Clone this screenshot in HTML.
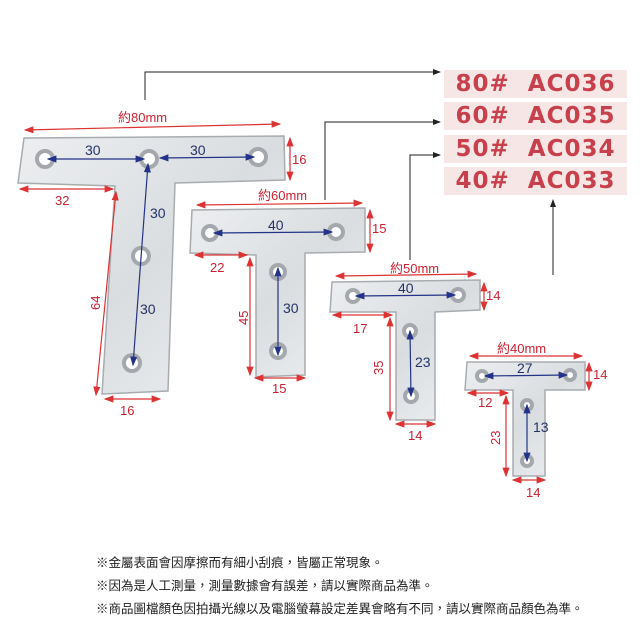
<!DOCTYPE html>
<html><head><meta charset="utf-8"><style>
body{margin:0;background:#fff;width:640px;height:640px;overflow:hidden;font-family:"Liberation Sans","Noto Sans CJK TC",sans-serif}
.lab{position:absolute;left:444px;width:183px;height:28px;background:#f7e6e6;color:#c8404c;font-weight:bold;font-size:23px;line-height:28px;letter-spacing:1px;text-align:center;white-space:nowrap;font-family:"DejaVu Sans","Liberation Sans",sans-serif}
.note{position:absolute;left:96px;font-size:12.5px;color:#222;white-space:nowrap}
</style></head><body>
<svg width="640" height="640" style="position:absolute;left:0;top:0">
<defs>
<linearGradient id="m" x1="0" y1="0" x2="1" y2="1"><stop offset="0" stop-color="#eceef0"/><stop offset=".5" stop-color="#dadde0"/><stop offset="1" stop-color="#eef0f2"/></linearGradient>
<marker id="a" markerWidth="8" markerHeight="8" refX="7" refY="4" orient="auto"><path d="M0,1 L8,4 L0,7z" fill="#222"/></marker>
<marker id="r" markerWidth="8" markerHeight="8" refX="7" refY="4" orient="auto-start-reverse"><path d="M0,1 L8,4 L0,7z" fill="#d33"/></marker>
<marker id="b" markerWidth="8" markerHeight="8" refX="7" refY="4" orient="auto-start-reverse"><path d="M0,1 L8,4 L0,7z" fill="#223388"/></marker>
</defs>
<g fill="url(#m)" stroke="#a8acb0" stroke-width="1.5">
<path d="M24,138 L284,136 L285,180 L175,183 L168,391 L102,394 L115,186 L18,183 Z"/>
<path d="M192,210 L365,208 L365,252 L305,253 L305,375 L256,377 L256,255 L190,253 Z"/>
<path d="M332,282 L480,280 L480,310 L435,312 L435,420 L396,420 L396,312 L330,312 Z"/>
<path d="M467,362 L585,362 L585,390 L545,390 L545,476 L513,476 L513,390 L465,390 Z"/>
</g>
<g fill="#fff" stroke="#a4a8ac" stroke-width="4">
<circle cx="45" cy="159" r="8"/><circle cx="149" cy="159" r="8"/><circle cx="258" cy="157" r="8"/><circle cx="141" cy="256" r="8"/><circle cx="132" cy="363" r="8"/>
<circle cx="210" cy="233" r="7"/><circle cx="336" cy="232" r="7"/><circle cx="278" cy="272" r="7"/><circle cx="278" cy="351" r="7"/>
<circle cx="353" cy="296" r="6"/><circle cx="458" cy="295" r="6"/><circle cx="410" cy="331" r="6"/><circle cx="411" cy="396" r="6"/>
<circle cx="482" cy="376" r="5"/><circle cx="570" cy="375" r="5"/><circle cx="527" cy="405" r="5"/><circle cx="527" cy="461" r="5"/>
</g>
<g stroke="#223388" stroke-width="1.2" fill="none" marker-start="url(#b)" marker-end="url(#b)">
<line x1="48" y1="159" x2="144" y2="159"/><line x1="160" y1="158" x2="254" y2="157"/><line x1="148" y1="164" x2="133" y2="365"/>
<line x1="214" y1="233" x2="332" y2="232"/><line x1="278" y1="268" x2="278" y2="355"/>
<line x1="356" y1="296" x2="455" y2="295"/><line x1="410" y1="331" x2="411" y2="396"/>
<line x1="485" y1="376" x2="567" y2="375"/><line x1="527" y1="405" x2="527" y2="461"/>
</g>
<g stroke="#d33" stroke-width="1.2" fill="none" marker-start="url(#r)" marker-end="url(#r)">
<line x1="25" y1="130" x2="280" y2="124"/><line x1="290" y1="138" x2="290" y2="180"/><line x1="20" y1="189" x2="113" y2="189"/>
<line x1="116" y1="192" x2="96" y2="395"/><line x1="105" y1="399" x2="160" y2="399"/>
<line x1="197" y1="205" x2="362" y2="203"/><line x1="370" y1="210" x2="370" y2="252"/><line x1="195" y1="255" x2="247" y2="255"/><line x1="250" y1="258" x2="250" y2="375"/><line x1="255" y1="378" x2="305" y2="378"/>
<line x1="336" y1="276" x2="476" y2="274"/><line x1="484" y1="283" x2="484" y2="310"/><line x1="333" y1="315" x2="392" y2="315"/><line x1="390" y1="318" x2="390" y2="420"/><line x1="396" y1="424" x2="435" y2="424"/>
<line x1="470" y1="356" x2="582" y2="356"/><line x1="589" y1="363" x2="589" y2="390"/><line x1="468" y1="393" x2="508" y2="393"/><line x1="506" y1="396" x2="506" y2="476"/><line x1="513" y1="480" x2="545" y2="480"/>
</g>
<g stroke="#222" stroke-width="1" fill="none" marker-end="url(#a)">
<polyline points="145,100 145,72 440,72"/><polyline points="325,200 325,122 440,122"/><polyline points="410,260 410,155 440,155"/><polyline points="553,275 553,200"/>
</g>
<g fill="#c23" font-family="Liberation Sans,Noto Sans CJK TC,sans-serif" font-size="13">
<text x="118" y="122">約80mm</text><text x="292" y="164" >16</text><text x="55" y="205">32</text><text x="100" y="310" transform="rotate(-90 100 310)">64</text><text x="120" y="415">16</text>
<text x="258" y="200">約60mm</text><text x="372" y="233">15</text><text x="210" y="272">22</text><text x="248" y="325" transform="rotate(-90 248 325)">45</text><text x="272" y="393">15</text>
<text x="390" y="273">約50mm</text><text x="486" y="300">14</text><text x="353" y="333">17</text><text x="383" y="375" transform="rotate(-90 383 375)">35</text><text x="408" y="440">14</text>
<text x="497" y="353">約40mm</text><text x="593" y="379">14</text><text x="478" y="407">12</text><text x="500" y="445" transform="rotate(-90 500 445)">23</text><text x="526" y="497">14</text>
</g>
<g fill="#223366" font-family="Liberation Sans,sans-serif" font-size="14">
<text x="85" y="155">30</text><text x="190" y="155">30</text><text x="150" y="218">30</text><text x="140" y="314">30</text>
<text x="268" y="230">40</text><text x="283" y="313">30</text><text x="398" y="293">40</text><text x="415" y="367">23</text><text x="517" y="373">27</text><text x="533" y="432">13</text>
</g>
</svg>
<div class="lab" style="top:70px">80#&nbsp; AC036</div>
<div class="lab" style="top:102px">60#&nbsp; AC035</div>
<div class="lab" style="top:135px">50#&nbsp; AC034</div>
<div class="lab" style="top:167px">40#&nbsp; AC033</div>
<div class="note" style="top:552px">※金屬表面會因摩擦而有細小刮痕，皆屬正常現象。</div>
<div class="note" style="top:575px">※因為是人工測量，測量數據會有誤差，請以實際商品為準。</div>
<div class="note" style="top:598px">※商品圖檔顏色因拍攝光線以及電腦螢幕設定差異會略有不同，請以實際商品顏色為準。</div>
</body></html>
